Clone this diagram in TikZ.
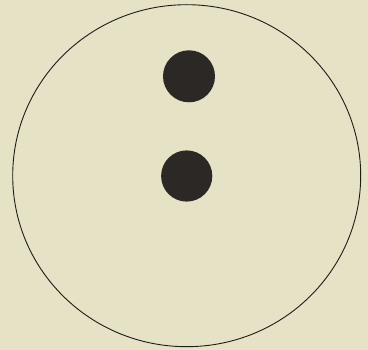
\documentclass[tikz,border=0pt]{standalone}
\usepackage{tikz}
\definecolor{paperbg}{HTML}{E6E2C6}
\definecolor{dotfill}{HTML}{2C2826}
\definecolor{rimline}{HTML}{1E1C1A}

\begin{document}
\begin{tikzpicture}[x=1pt, y=-1pt]
  % paper
  \fill[paperbg] (0,0) rectangle (368,350);
  \useasboundingbox (0,0) rectangle (368,350);
  % outer circle
  \draw[rimline, line width=0.9pt] (186.7,175.7) ellipse [x radius=174, y radius=171];
  % the two dots
  \fill[dotfill] (189,76.3) circle [radius=26];
  \fill[dotfill] (186.7,176) circle [radius=25.6];
\end{tikzpicture}
\end{document}
